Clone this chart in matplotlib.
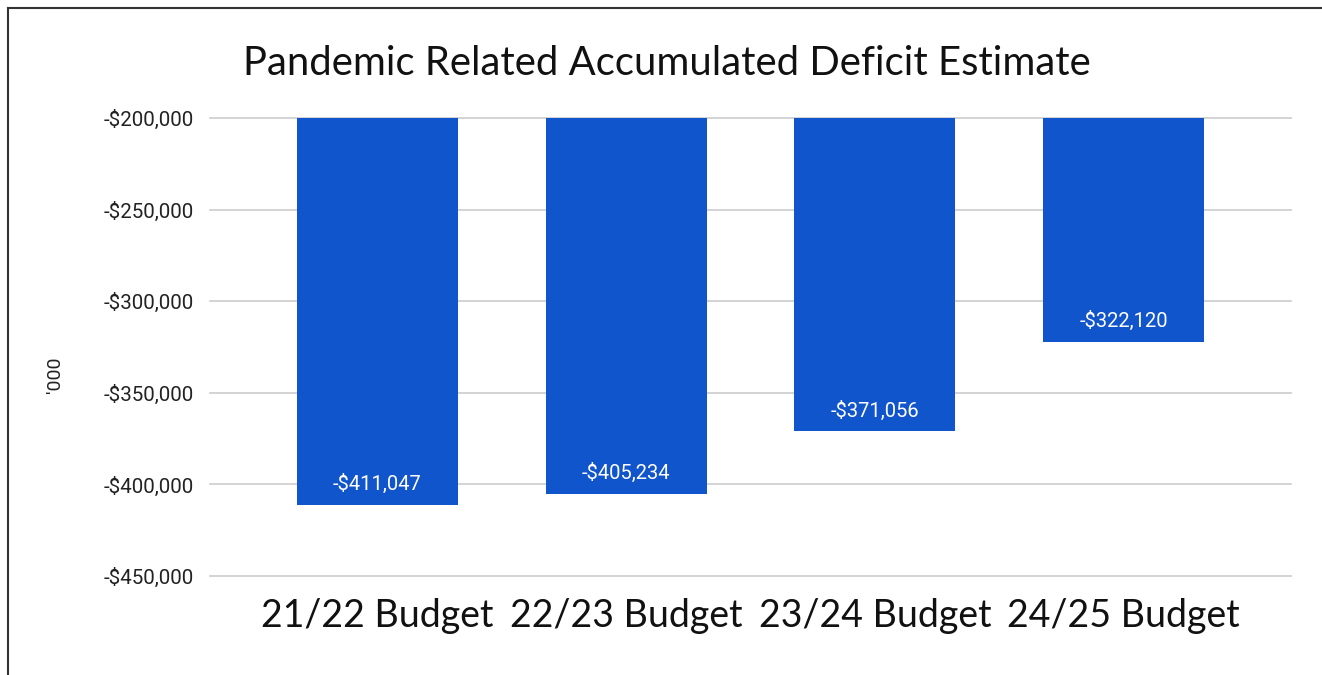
import matplotlib
matplotlib.use("Agg")
import matplotlib.pyplot as plt
from matplotlib.lines import Line2D
from matplotlib.ticker import FuncFormatter

# Chart data
categories = ["21/22 Budget", "22/23 Budget", "23/24 Budget", "24/25 Budget"]
deficits = [-411047, -405234, -371056, -322120]
y_ticks = [-200000, -250000, -300000, -350000, -400000, -450000]

bar_color = "#1155cc"
grid_color = "#cccccc"

fig = plt.figure(figsize=(13.22, 6.75), dpi=100)
ax = fig.add_axes([0.1589, 0.1467, 0.8177, 0.6785])

# Bars (clipped at the top of the axis, like the source chart)
x = list(range(len(categories)))
bars = ax.bar(x, deficits, width=0.647, color=bar_color, zorder=3)

ax.set_ylim(-450000, -200000)
ax.set_xlim(-0.673, len(categories) - 1 + 0.673)
ax.set_yticks(y_ticks)
ax.yaxis.set_major_formatter(FuncFormatter(lambda v, p: "-${:,.0f}".format(abs(v))))
ax.grid(axis="y", color=grid_color, linewidth=1.2, zorder=0)
for gl in ax.get_ygridlines():
    gl.set_clip_on(False)
ax.tick_params(axis="y", length=0, pad=12, labelsize=14.8, labelcolor="#222222")
for lab in ax.get_yticklabels():
    lab.set_fontfamily("Roboto")

ax.set_xticks(x)
ax.set_xticklabels(categories, fontsize=27, fontfamily="Lato", color="#111111")
ax.tick_params(axis="x", length=0, pad=16)

for s in ax.spines.values():
    s.set_visible(False)

# Value labels inside the bottom of each bar
for xi, v in zip(x, deficits):
    ax.annotate("-${:,}".format(abs(v)), xy=(xi, v), xytext=(0, 15),
                textcoords="offset points", ha="center", va="center",
                color="white", fontsize=14.5, fontfamily="Roboto", zorder=4)

ax.set_ylabel("'000", fontsize=14, fontfamily="Roboto", color="#222222")
ax.yaxis.set_label_coords(-0.135, 0.44)

fig.text(0.5046, 0.906, "Pandemic Related Accumulated Deficit Estimate",
         ha="center", va="center", fontsize=28.8, fontfamily="Lato", color="#111111")

# Frame lines on top and left edge
fig.add_artist(Line2D([8 / 1322, 1.0], [1 - 8 / 675] * 2, color="#333333", linewidth=1.5))
fig.add_artist(Line2D([8 / 1322] * 2, [0.0, 1 - 8 / 675], color="#333333", linewidth=1.5))

fig.savefig("out.png", dpi=100, facecolor="white")
